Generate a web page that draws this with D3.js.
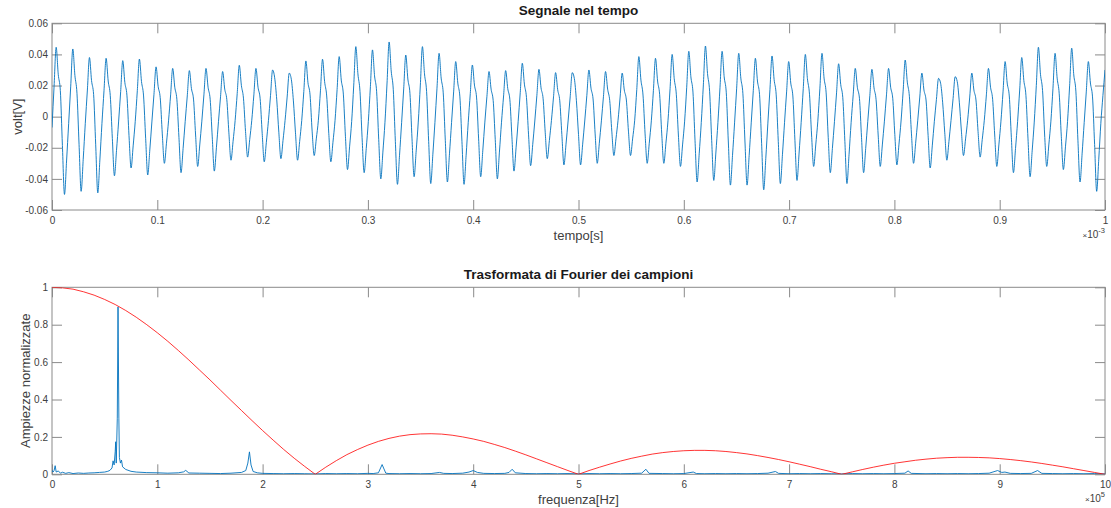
<!DOCTYPE html>
<html>
<head>
<meta charset="utf-8">
<script src="https://cdn.jsdelivr.net/npm/d3@7"></script>
<style>
  html, body { margin: 0; padding: 0; background: #fff; }
  svg { display: block; }
  text { font-family: "Liberation Sans", Arial, Helvetica, sans-serif; }
</style>
</head>
<body>
<svg id="chart" width="1111" height="508"></svg>
<script>
// ---------------------------------------------------------------
// Sampled signal: 507 samples uniformly spread over 0 .. 1 ms (volts)
// ---------------------------------------------------------------
const signalDuration = 1e-3;
const signalVolts = [
  -.0070, .0196,
  .0446, .0272, .0168, -.0185, -.0500, -.0285, -.0045, .0196,
  .0435, .0265, .0150, -.0178, -.0480, -.0274, -.0043, .0171,
  .0380, .0232, .0142, -.0181, -.0490, -.0279, -.0044, .0169,
  .0375, .0229, .0135, -.0141, -.0380, -.0217, -.0034, .0162,
  .0360, .0220, .0138, -.0122, -.0330, -.0188, -.0030, .0167,
  .0370, .0226, .0133, -.0139, -.0375, -.0214, -.0034, .0144,
  .0320, .0195, .0122, -.0111, -.0300, -.0171, -.0027, .0140,
  .0310, .0189, .0112, -.0133, -.0360, -.0205, -.0032, .0133,
  .0296, .0181, .0113, -.0118, -.0320, -.0182, -.0029, .0140,
  .0310, .0189, .0112, -.0130, -.0350, -.0200, -.0032, .0131,
  .0290, .0177, .0110, -.0104, -.0280, -.0160, -.0025, .0149,
  .0330, .0201, .0119, -.0096, -.0260, -.0148, -.0023, .0140,
  .0310, .0189, .0118, -.0107, -.0290, -.0165, -.0026, .0135,
  .0300, .0250, .0108, -.0100, -.0270, -.0154, -.0024, .0126,
  .0280, .0240, .0101, -.0104, -.0280, -.0160, -.0025, .0161,
  .0358, .0218, .0140, -.0093, -.0250, -.0143, -.0023, .0166,
  .0369, .0225, .0133, -.0107, -.0290, -.0165, -.0026, .0174,
  .0386, .0235, .0145, -.0126, -.0340, -.0194, -.0031, .0203,
  .0450, .0275, .0162, -.0133, -.0360, -.0205, -.0032, .0193,
  .0429, .0262, .0160, -.0148, -.0400, -.0228, -.0036, .0216,
  .0480, .0293, .0173, -.0161, -.0435, -.0248, -.0039, .0178,
  .0396, .0242, .0150, -.0143, -.0386, -.0220, -.0035, .0203,
  .0450, .0275, .0162, -.0159, -.0430, -.0245, -.0039, .0183,
  .0407, .0248, .0153, -.0155, -.0420, -.0239, -.0038, .0159,
  .0354, .0216, .0127, -.0161, -.0435, -.0248, -.0039, .0149,
  .0332, .0203, .0126, -.0143, -.0386, -.0220, -.0035, .0131,
  .0290, .0177, .0104, -.0148, -.0400, -.0228, -.0036, .0133,
  .0296, .0181, .0112, -.0130, -.0350, -.0200, -.0032, .0154,
  .0343, .0209, .0123, -.0117, -.0315, -.0180, -.0028, .0137,
  .0304, .0185, .0115, -.0100, -.0270, -.0154, -.0024, .0127,
  .0283, .0173, .0102, -.0115, -.0310, -.0177, -.0028, .0127,
  .0283, .0245, .0102, -.0115, -.0310, -.0177, -.0028, .0135,
  .0300, .0183, .0114, -.0111, -.0300, -.0171, -.0027, .0131,
  .0290, .0177, .0104, -.0093, -.0250, -.0143, -.0023, .0126,
  .0280, .0171, .0107, -.0093, -.0250, -.0143, -.0023, .0174,
  .0386, .0235, .0139, -.0111, -.0300, -.0171, -.0027, .0169,
  .0375, .0229, .0141, -.0111, -.0300, -.0171, -.0027, .0180,
  .0400, .0244, .0144, -.0118, -.0320, -.0182, -.0029, .0189,
  .0420, .0256, .0158, -.0155, -.0420, -.0239, -.0038, .0204,
  .0454, .0277, .0163, -.0152, -.0410, -.0234, -.0037, .0189,
  .0420, .0256, .0157, -.0163, -.0440, -.0251, -.0040, .0183,
  .0407, .0248, .0147, -.0163, -.0440, -.0251, -.0040, .0169,
  .0375, .0229, .0141, -.0174, -.0470, -.0268, -.0042, .0176,
  .0390, .0238, .0140, -.0159, -.0430, -.0245, -.0039, .0159,
  .0354, .0216, .0133, -.0152, -.0410, -.0234, -.0037, .0180,
  .0400, .0244, .0144, -.0118, -.0320, -.0182, -.0029, .0183,
  .0407, .0248, .0153, -.0133, -.0360, -.0205, -.0032, .0153,
  .0340, .0207, .0122, -.0159, -.0430, -.0245, -.0039, .0140,
  .0310, .0189, .0118, -.0133, -.0360, -.0205, -.0032, .0137,
  .0304, .0185, .0109, -.0118, -.0320, -.0182, -.0029, .0140,
  .0310, .0189, .0118, -.0115, -.0310, -.0177, -.0028, .0164,
  .0364, .0222, .0131, -.0111, -.0300, -.0171, -.0027, .0126,
  .0280, .0171, .0107, -.0122, -.0330, -.0188, -.0030, .0111,
  .0246, .0215, .0089, -.0104, -.0280, -.0160, -.0025, .0116,
  .0257, .0225, .0093, -.0093, -.0250, -.0143, -.0023, .0126,
  .0280, .0171, .0107, -.0096, -.0260, -.0148, -.0023, .0140,
  .0310, .0189, .0112, -.0118, -.0320, -.0182, -.0029, .0159,
  .0354, .0216, .0133, -.0133, -.0360, -.0205, -.0032, .0171,
  .0380, .0232, .0137, -.0143, -.0386, -.0220, -.0035, .0201,
  .0446, .0272, .0167, -.0118, -.0320, -.0182, -.0029, .0183,
  .0407, .0248, .0147, -.0126, -.0340, -.0194, -.0031, .0198,
  .0440, .0268, .0164, -.0155, -.0420, -.0239, -.0038, .0159,
  .0354, .0216, .0127, -.0178, -.0480, -.0274, -.0043, .0135,
  .0300
];

// ---------------------------------------------------------------
// Normalised spectrum of the samples: [frequency kHz, amplitude]
// ---------------------------------------------------------------
const spectrumPoints = [
  [0,.022],[1,.012],[2,.020],[3,.046],[4,.012],[6,.018],[8,.006],[10,.011],[13,.005],[16,.009],
  [20,.004],[25,.007],[30,.005],[35,.007],[40,.008],[45,.010],[50,.012],[53,.016],[55,.021],[57,.034],
  [58,.072],[59,.050],[60,.120],[60.5,.174],[61,.060],[62,.300],[62.7,.895],[63.5,.300],[64,.090],[65,.060],
  [66,.076],[67,.040],[70,.026],[75,.016],[80,.012],[90,.009],[100,.008],[110,.006],[120,.008],[125,.013],
  [127,.021],[130,.007],[140,.006],[150,.005],[160,.004],[170,.006],[180,.010],[184,.020],[186,.060],[187.5,.120],
  [189,.050],[191,.015],[195,.008],[200,.005],[210,.004],[220,.003],[230,.004],[240,.003],[250,.002],[260,.004],
  [270,.003],[280,.004],[290,.003],[300,.005],[305,.004],[310,.008],[313.5,.052],[317,.006],[320,.004],[330,.003],
  [340,.004],[350,.003],[360,.004],[368,.010],[372,.005],[380,.004],[390,.006],[396,.012],[400,.020],[404,.010],
  [410,.005],[420,.004],[430,.005],[434,.010],[437,.027],[440,.008],[450,.004],[460,.003],[470,.004],[480,.003],
  [490,.004],[500,.002],[510,.004],[520,.003],[530,.004],[540,.003],[550,.004],[560,.006],[564,.027],[567,.005],
  [580,.004],[590,.003],[600,.004],[609,.012],[612,.004],[620,.003],[630,.004],[640,.003],[650,.004],[660,.003],
  [670,.004],[680,.006],[687,.015],[690,.005],[700,.003],[710,.004],[720,.003],[730,.004],[740,.003],[750,.002],
  [760,.004],[770,.003],[780,.004],[790,.003],[800,.004],[810,.006],[813,.018],[816,.005],[830,.003],[840,.004],
  [850,.003],[860,.004],[870,.003],[880,.004],[890,.006],[898,.020],[902,.010],[905,.012],[910,.005],[920,.004],
  [930,.005],[936,.020],[940,.005],[950,.004],[960,.003],[970,.004],[980,.003],[990,.004],[1000,.002]
];

// Hold-filter envelope, one value every 10 kHz from 0 to 1 MHz
const envelopeStepKHz = 10;
const envelopeAmp = [
  1.000, .997, .990, .976, .958, .935, .908, .876, .840, .800,
  .757, .711, .662, .611, .558, .505, .450, .395, .341, .287,
  .234, .183, .133, .086, .042, .000, .038, .073, .105, .132,
  .156, .176, .192, .204, .212, .216, .217, .215, .209, .200,
  .189, .176, .160, .143, .124, .104, .083, .062, .041, .020,
  .000, .020, .038, .055, .071, .085, .097, .108, .116, .122,
  .126, .128, .128, .126, .122, .116, .109, .100, .090, .079,
  .067, .054, .041, .027, .014, .000, .013, .026, .038, .049,
  .059, .067, .075, .081, .086, .089, .091, .091, .090, .088,
  .084, .079, .073, .066, .058, .049, .040, .030, .020, .010,
  .000
];

// Axis ticks
const timeTicks = [0, 0.1, 0.2, 0.3, 0.4, 0.5, 0.6, 0.7, 0.8, 0.9, 1];   // ×10^-3 s
const timeTickLabels = ["0","0.1","0.2","0.3","0.4","0.5","0.6","0.7","0.8","0.9","1"];
const voltTicks = [-0.06, -0.04, -0.02, 0, 0.02, 0.04, 0.06];
const voltTickLabels = ["-0.06","-0.04","-0.02","0","0.02","0.04","0.06"];
const freqTicks = [0, 1, 2, 3, 4, 5, 6, 7, 8, 9, 10];                  // ×10^5 Hz
const freqTickLabels = ["0","1","2","3","4","5","6","7","8","9","10"];
const ampTicks = [0, 0.2, 0.4, 0.6, 0.8, 1];
const ampTickLabels = ["0","0.2","0.4","0.6","0.8","1"];

// ---------------------------------------------------------------
const svg = d3.select("#chart");
const AXIS_COLOR = "#8a8a8a";
const LABEL_COLOR = "#404040";
const BLUE = "#0072bd";
const RED = "#ff0000";
const TICK_LEN = 10;

function drawAxes(id, x, y, xt, xtl, yt, ytl, title, xLabel, yLabel, yLabelX, expText) {
  const [x0, x1] = x.range();
  const [y0, y1] = y.range();   // y0 bottom, y1 top
  const g = svg.append("g").attr("class", id);

  const styleAxis = sel => {
    sel.select(".domain").remove();
    sel.selectAll(".tick line").attr("stroke", AXIS_COLOR).attr("stroke-width", 1);
    sel.selectAll(".tick text").attr("fill", LABEL_COLOR).style("font-size", "10px")
       .style("font-family", '"Liberation Sans", Arial, sans-serif');
  };

  g.append("g").attr("transform", `translate(0,${y0})`)
    .call(d3.axisBottom(x).tickValues(xt).tickFormat((d, i) => xtl[i]).tickSize(-TICK_LEN).tickPadding(6.5))
    .call(styleAxis);
  g.append("g").attr("transform", `translate(0,${y1})`)
    .call(d3.axisTop(x).tickValues(xt).tickFormat("").tickSize(-TICK_LEN))
    .call(styleAxis);
  g.append("g").attr("transform", `translate(${x0},0)`)
    .call(d3.axisLeft(y).tickValues(yt).tickFormat((d, i) => ytl[i]).tickSize(-TICK_LEN).tickPadding(4))
    .call(styleAxis);
  g.append("g").attr("transform", `translate(${x1},0)`)
    .call(d3.axisRight(y).tickValues(yt).tickFormat("").tickSize(-TICK_LEN))
    .call(styleAxis);

  g.append("rect")
    .attr("x", x0).attr("y", y1).attr("width", x1 - x0).attr("height", y0 - y1)
    .attr("fill", "none").attr("stroke", AXIS_COLOR).attr("stroke-width", 1);

  g.append("text")
    .attr("x", (x0 + x1) / 2).attr("y", y1 - 8)
    .attr("text-anchor", "middle")
    .style("font-size", "13.5px").style("font-weight", "bold").attr("fill", "#1a1a1a")
    .text(title);

  g.append("text")
    .attr("x", (x0 + x1) / 2).attr("y", y0 + 25)
    .attr("text-anchor", "middle").attr("dominant-baseline", "central")
    .style("font-size", "13px").attr("fill", LABEL_COLOR)
    .text(xLabel);

  g.append("text")
    .attr("transform", `translate(${yLabelX},${(y0 + y1) / 2}) rotate(-90)`)
    .attr("text-anchor", "middle").attr("dominant-baseline", "central")
    .style("font-size", "13px").attr("fill", LABEL_COLOR)
    .text(yLabel);

  // scale multiplier in the lower right corner
  const m = g.append("text")
    .attr("x", x1).attr("y", y0 + 28)
    .attr("text-anchor", "end")
    .style("font-size", "10px").attr("fill", LABEL_COLOR);
  m.append("tspan").style("font-size", "8px").text("\u00d7");
  m.append("tspan").text("10");
  m.append("tspan").attr("dy", -5).style("font-size", "7.5px").text(expText);

  g.append("clipPath").attr("id", id + "-clip")
    .append("rect").attr("x", x0).attr("y", y1).attr("width", x1 - x0).attr("height", y0 - y1);
  return g.append("g").attr("clip-path", `url(#${id}-clip)`);
}

// ---------------- Top panel: signal in time ----------------
const xTime = d3.scaleLinear().domain([0, signalDuration]).range([52, 1105]);
const yVolt = d3.scaleLinear().domain([-0.06, 0.06]).range([210, 23.3]);
const topPlot = drawAxes("top", xTime, yVolt,
  timeTicks.map(v => v * 1e-3), timeTickLabels, voltTicks, voltTickLabels,
  "Segnale nel tempo", "tempo[s]", "volt[V]", 17.5, "-3");

const sampleStep = signalDuration / (signalVolts.length - 1);
topPlot.append("path")
  .datum(signalVolts)
  .attr("fill", "none").attr("stroke", BLUE).attr("stroke-width", 0.9)
  .attr("stroke-linejoin", "round")
  .attr("d", d3.line().curve(d3.curveMonotoneX)
    .x((d, i) => xTime(i * sampleStep)).y(d => yVolt(d)));

// ---------------- Bottom panel: Fourier transform ----------------
const xFreq = d3.scaleLinear().domain([0, 1e6]).range([52, 1105]);
const yAmp = d3.scaleLinear().domain([0, 1]).range([474.3, 287.3]);
const botPlot = drawAxes("bottom", xFreq, yAmp,
  freqTicks.map(v => v * 1e5), freqTickLabels, ampTicks, ampTickLabels,
  "Trasformata di Fourier dei campioni", "frequenza[Hz]", "Ampiezze normalizzate", 25, "5");

botPlot.append("path")
  .datum(spectrumPoints)
  .attr("fill", "none").attr("stroke", BLUE).attr("stroke-width", 0.9)
  .attr("stroke-linejoin", "round")
  .attr("d", d3.line().x(d => xFreq(d[0] * 1e3)).y(d => yAmp(d[1])));

botPlot.append("path")
  .datum(envelopeAmp)
  .attr("fill", "none").attr("stroke", RED).attr("stroke-width", 0.8)
  .attr("d", d3.line().x((d, i) => xFreq(i * envelopeStepKHz * 1e3)).y(d => yAmp(d)));
</script>
</body>
</html>
